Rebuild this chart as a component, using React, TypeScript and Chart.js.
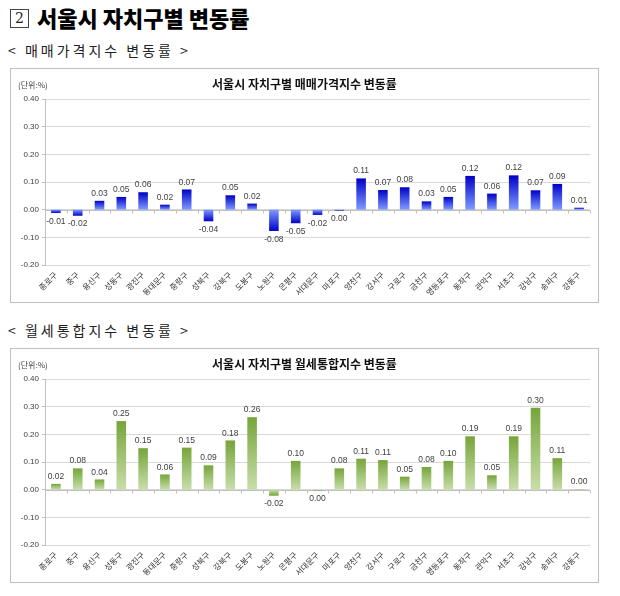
import React, { useEffect, useRef } from "react";
import { Chart, registerables } from "chart.js";

Chart.register(...registerables);

const districts = [
  "종로구", "중구", "용산구", "성동구", "광진구", "동대문구", "중랑구", "성북구", "강북구", "도봉구",
  "노원구", "은평구", "서대문구", "마포구", "양천구", "강서구", "구로구", "금천구", "영등포구", "동작구",
  "관악구", "서초구", "강남구", "송파구", "강동구",
];

const saleValues = [
  -0.012, -0.022, 0.032, 0.046, 0.063, 0.018, 0.073, -0.042, 0.052, 0.022,
  -0.077, -0.049, -0.019, -0.003, 0.113, 0.071, 0.081, 0.030, 0.046, 0.122,
  0.058, 0.124, 0.070, 0.093, 0.007,
];

const rentValues = [
  0.021, 0.077, 0.037, 0.248, 0.150, 0.055, 0.152, 0.088, 0.178, 0.262,
  -0.022, 0.104, -0.003, 0.077, 0.112, 0.107, 0.047, 0.082, 0.104, 0.193,
  0.052, 0.193, 0.296, 0.114, 0.001,
];

const yMin = -0.2;
const yMax = 0.4;
const yStep = 0.1;

const saleTitle = "서울시 자치구별 매매가격지수 변동률";
const rentTitle = "서울시 자치구별 월세통합지수 변동률";
const unitLabel = "(단위:%)";

const NUM_FONT = '"Liberation Sans", Arial, sans-serif';
const KR_FONT = '"Noto Sans CJK KR", "Noto Sans", sans-serif';

const fmt = (v: number) => (Math.round(v * 100) / 100 + 0).toFixed(2);

const valueLabels = {
  id: "valueLabels",
  afterDatasetsDraw(chart: any) {
    const ctx = chart.ctx;
    const meta = chart.getDatasetMeta(0);
    const data = chart.data.datasets[0].data as number[];
    ctx.save();
    ctx.font = `8.5px ${NUM_FONT}`;
    ctx.fillStyle = "#404040";
    ctx.textAlign = "center";
    meta.data.forEach((bar: any, i: number) => {
      const v = data[i];
      if (v >= 0) {
        ctx.textBaseline = "bottom";
        ctx.fillText(fmt(v), bar.x, bar.y - 3);
      } else {
        ctx.textBaseline = "top";
        ctx.fillText(fmt(v), bar.x, bar.y + 4);
      }
    });
    ctx.restore();
  },
};

const zeroLine = {
  id: "zeroLine",
  beforeDatasetsDraw(chart: any) {
    const ctx = chart.ctx;
    const y = chart.scales.y.getPixelForValue(0);
    const { left, right } = chart.chartArea;
    const n = chart.data.labels.length;
    ctx.save();
    ctx.strokeStyle = "#bfbfbf";
    ctx.lineWidth = 1;
    ctx.beginPath();
    const yy = Math.round(y) + 0.5;
    ctx.moveTo(left, yy);
    ctx.lineTo(right, yy);
    for (let i = 0; i <= n; i++) {
      const x = Math.round(left + ((right - left) * i) / n) + 0.5;
      ctx.moveTo(x, yy);
      ctx.lineTo(x, yy + 3);
    }
    ctx.stroke();
    ctx.restore();
  },
};

function BarChart({ values, dark, light }: { values: number[]; dark: string; light: string }) {
  const ref = useRef<HTMLCanvasElement | null>(null);
  useEffect(() => {
    if (!ref.current) return;
    const chart = new Chart(ref.current, {
      type: "bar",
      data: {
        labels: districts,
        datasets: [
          {
            data: values,
            barPercentage: 0.44,
            categoryPercentage: 1,
            backgroundColor: (c: any) => {
              const ch = c.chart;
              if (!ch.chartArea || c.raw === undefined) return dark;
              const y0 = ch.scales.y.getPixelForValue(0);
              const y1 = ch.scales.y.getPixelForValue(c.raw);
              if (Math.abs(y1 - y0) < 0.5) return dark;
              const g = ch.ctx.createLinearGradient(0, y1, 0, y0);
              g.addColorStop(0, dark);
              g.addColorStop(1, light);
              return g;
            },
          },
        ],
      },
      options: {
        animation: false,
        responsive: true,
        maintainAspectRatio: false,
        layout: { padding: { top: 30, right: 8, bottom: 0, left: 0 } },
        plugins: { legend: { display: false }, tooltip: { enabled: false }, title: { display: false } },
        scales: {
          x: {
            grid: { display: false, drawTicks: false },
            border: { display: false },
            ticks: {
              autoSkip: false,
              minRotation: 45,
              maxRotation: 45,
              padding: 5,
              color: "#333",
              font: { family: KR_FONT, size: 8 },
            },
            afterFit: (s: any) => {
              s.height = 37;
            },
          },
          y: {
            min: yMin,
            max: yMax,
            ticks: {
              stepSize: yStep,
              padding: 3,
              color: "#404040",
              font: { family: NUM_FONT, size: 8 },
              callback: (v: any) => fmt(Number(v)),
            },
            grid: { color: "#d9d9d9", tickLength: 3, tickColor: "#bfbfbf" },
            border: { display: true, color: "#bfbfbf" },
            afterFit: (s: any) => {
              s.width = 34;
            },
          },
        },
      },
      plugins: [zeroLine, valueLabels],
    } as any);
    return () => chart.destroy();
  }, [values, dark, light]);

  return <canvas ref={ref} />;
}

function ChartBox({ top, title, values, dark, light }: any) {
  return (
    <div
      style={{
        position: "absolute",
        left: 10,
        top,
        width: 587,
        height: 233,
        border: "1px solid #bfbfbf",
        background: "#fff",
      }}
    >
      <div style={{ position: "absolute", left: 0, top: 0, width: 587, height: 233 }}>
        <BarChart values={values} dark={dark} light={light} />
      </div>
      <div
        style={{
          position: "absolute",
          left: 0,
          width: 587,
          top: 7,
          textAlign: "center",
          fontFamily: KR_FONT,
          fontWeight: 700,
          fontSize: 12,
          lineHeight: "16px",
          color: "#111",
        }}
      >
        {title}
      </div>
      <div
        style={{
          position: "absolute",
          left: 7,
          top: 11,
          fontFamily: KR_FONT,
          fontSize: 8,
          lineHeight: "10px",
          color: "#404040",
        }}
      >
        {unitLabel}
      </div>
    </div>
  );
}

export default function App() {
  return (
    <div
      style={{
        position: "relative",
        width: 620,
        height: 596,
        margin: -8,
        background: "#fff",
        fontFamily: KR_FONT,
        color: "#111",
        overflow: "hidden",
      }}
    >
      <div
        style={{
          position: "absolute",
          left: 10,
          top: 9,
          width: 17,
          height: 17,
          border: "1px solid #444",
          fontFamily: '"DejaVu Serif", serif',
          fontSize: 14,
          lineHeight: "17px",
          textAlign: "center",
          color: "#222",
        }}
      >
        2
      </div>
      <div
        style={{
          position: "absolute",
          left: 37,
          top: 3,
          fontSize: 22,
          fontWeight: 900,
          lineHeight: "28px",
          color: "#000",
        }}
      >
        서울시 자치구별 변동률
      </div>
      <div
        style={{
          position: "absolute",
          left: 8,
          top: 41,
          fontSize: 14,
          lineHeight: "18px",
          letterSpacing: 3,
          color: "#222",
        }}
      >
        {"< 매매가격지수 변동률 >"}
      </div>
      <ChartBox top={68} title={saleTitle} values={saleValues} dark="#0000c8" light="#7f9bff" />
      <div
        style={{
          position: "absolute",
          left: 8,
          top: 321,
          fontSize: 14,
          lineHeight: "18px",
          letterSpacing: 3,
          color: "#222",
        }}
      >
        {"< 월세통합지수 변동률 >"}
      </div>
      <ChartBox top={348} title={rentTitle} values={rentValues} dark="#76a53a" light="#c8deaa" />
    </div>
  );
}
